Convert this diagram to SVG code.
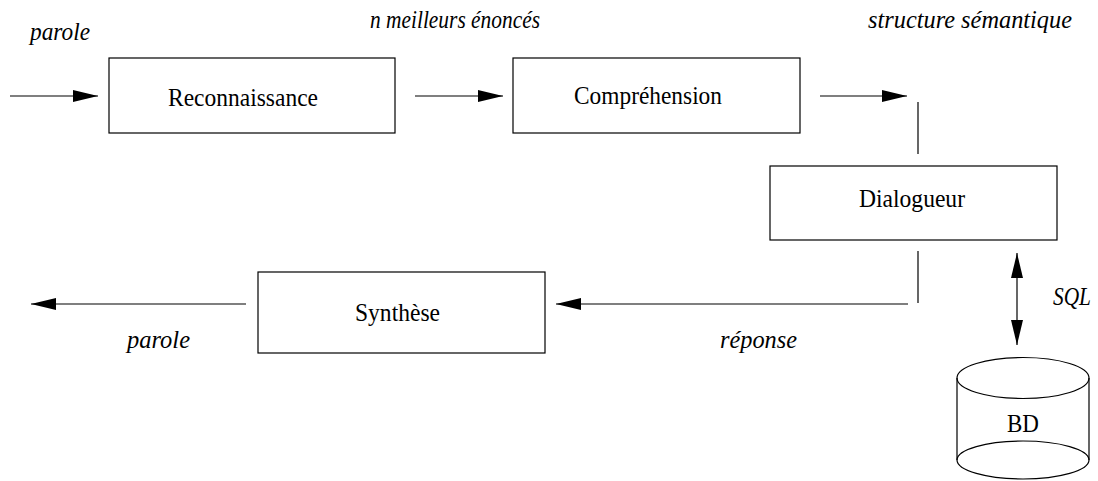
<svg xmlns="http://www.w3.org/2000/svg" width="1098" height="481" viewBox="0 0 1098 481">
  <style>
    .box { fill: #ffffff; stroke: #000000; stroke-width: 1.2; }
    .ln { fill: none; stroke: #000000; stroke-width: 1.2; }
    .lbl { font-family: 'Liberation Serif', serif; font-size: 26px; fill: #000000; }
    .it { font-family: 'Liberation Serif', serif; font-size: 26px; font-style: italic; fill: #000000; }
  </style>
  <defs>
    <marker id="ah" viewBox="0 0 25 12" refX="25" refY="6" markerWidth="25" markerHeight="12" markerUnits="userSpaceOnUse" orient="auto-start-reverse">
      <path d="M0,0 L25,6 L0,12 z" fill="#000000"/>
    </marker>
  </defs>
  <rect width="1098" height="481" fill="#ffffff"/>

  <g id="connectors">
    <line class="ln" x1="10" y1="96" x2="98" y2="96" marker-end="url(#ah)"/>
    <line class="ln" x1="415" y1="96" x2="503" y2="96" marker-end="url(#ah)"/>
    <line class="ln" x1="820" y1="96" x2="907" y2="96" marker-end="url(#ah)"/>
    <line class="ln" x1="918" y1="102" x2="918" y2="154"/>
    <line class="ln" x1="918" y1="251" x2="918" y2="303"/>
    <line class="ln" x1="908" y1="304" x2="556" y2="304" marker-end="url(#ah)"/>
    <line class="ln" x1="246" y1="304" x2="31" y2="304" marker-end="url(#ah)"/>
    <line class="ln" x1="1017" y1="253" x2="1017" y2="345" marker-start="url(#ah)" marker-end="url(#ah)"/>
  </g>

  <g id="labels">
    <text class="it" x="30" y="40" textLength="60" lengthAdjust="spacingAndGlyphs">parole</text>
    <text class="it" x="370" y="28" textLength="170" lengthAdjust="spacingAndGlyphs">n meilleurs énoncés</text>
    <text class="it" x="868" y="28" textLength="204" lengthAdjust="spacingAndGlyphs">structure sémantique</text>
    <text class="it" x="127" y="348" textLength="63" lengthAdjust="spacingAndGlyphs">parole</text>
    <text class="it" x="720" y="348" textLength="77" lengthAdjust="spacingAndGlyphs">réponse</text>
    <text class="it" x="1053" y="305" textLength="38" lengthAdjust="spacingAndGlyphs">SQL</text>
  </g>

  <g id="reconnaissance">
    <rect class="box" x="109" y="58" width="286" height="75"/>
    <text class="lbl" x="168" y="106" textLength="150" lengthAdjust="spacingAndGlyphs">Reconnaissance</text>
  </g>
  <g id="comprehension">
    <rect class="box" x="513" y="58" width="287" height="75"/>
    <text class="lbl" x="574" y="104" textLength="148" lengthAdjust="spacingAndGlyphs">Compréhension</text>
  </g>
  <g id="dialogueur">
    <rect class="box" x="770" y="166" width="287" height="74"/>
    <text class="lbl" x="859" y="207" textLength="106" lengthAdjust="spacingAndGlyphs">Dialogueur</text>
  </g>
  <g id="synthese">
    <rect class="box" x="258" y="272" width="287" height="81"/>
    <text class="lbl" x="355" y="321" textLength="85" lengthAdjust="spacingAndGlyphs">Synthèse</text>
  </g>
  <g id="bd">
    <path class="ln" d="M957,378 L957,460 M1089,378 L1089,460"/>
    <ellipse class="ln" cx="1023" cy="378" rx="66" ry="20.5"/>
    <ellipse class="ln" cx="1023" cy="460" rx="66" ry="19"/>
    <text class="lbl" x="1007" y="432" textLength="32" lengthAdjust="spacingAndGlyphs">BD</text>
  </g>
</svg>
